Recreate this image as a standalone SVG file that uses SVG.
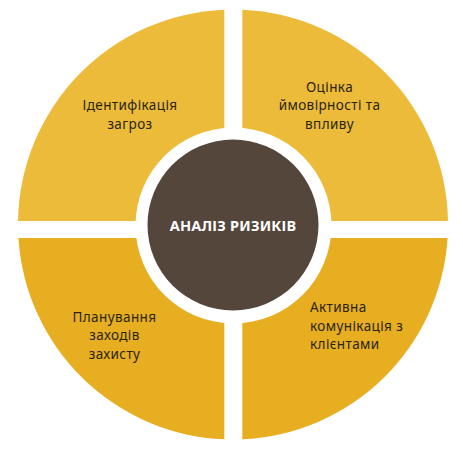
<svg xmlns="http://www.w3.org/2000/svg" width="463" height="450" viewBox="0 0 463 450">
<style>
.top{fill:#ECBB3A}
.bot{fill:#E7AE22}
.lbl{font-family:"Noto Sans","Liberation Sans",sans-serif;font-size:13.5px;letter-spacing:0.4px;fill:#2B2418;text-anchor:middle}
.lft{text-anchor:start}
.ctr{font-family:"Noto Sans","Liberation Sans",sans-serif;font-size:14.5px;font-weight:bold;letter-spacing:0.2px;fill:#FFFFFF;text-anchor:middle}
</style>
<rect width="463" height="450" fill="#FFFFFF"/>
<g id="q-identification">
<path class="top" d="M224.3,221 V9.68 A215,215 0 0 0 18.03,221 Z"/>
<text class="lbl" x="130" y="110">Ідентифікація</text>
<text class="lbl" x="130" y="129">загроз</text>
</g>
<g id="q-assessment">
<path class="top" d="M242.3,221 V9.7 A215,215 0 0 1 447.97,221 Z"/>
<text class="lbl" x="329.5" y="91.5">Оцінка</text>
<text class="lbl" x="329.5" y="110">ймовірності та</text>
<text class="lbl" x="329.5" y="129">впливу</text>
</g>
<g id="q-planning">
<path class="bot" d="M224.3,238 H18.42 A215,215 0 0 0 224.3,439.32 Z"/>
<text class="lbl" x="114.5" y="321.5">Планування</text>
<text class="lbl" x="114.5" y="340">заходів</text>
<text class="lbl" x="114.5" y="358.5">захисту</text>
</g>
<g id="q-communication">
<path class="bot" d="M242.3,238 H447.58 A215,215 0 0 1 242.3,439.3 Z"/>
<text class="lbl lft" x="310" y="312">Активна</text>
<text class="lbl lft" x="310" y="330.5">комунікація з</text>
<text class="lbl lft" x="310" y="349">клієнтами</text>
</g>
<g id="center">
<circle cx="233.5" cy="225.5" r="98" fill="#FFFFFF"/>
<circle cx="233" cy="225" r="85.5" fill="#55463C"/>
<text class="ctr" x="233" y="230.5">АНАЛІЗ РИЗИКІВ</text>
</g>
<g id="connectors"/>
</svg>
